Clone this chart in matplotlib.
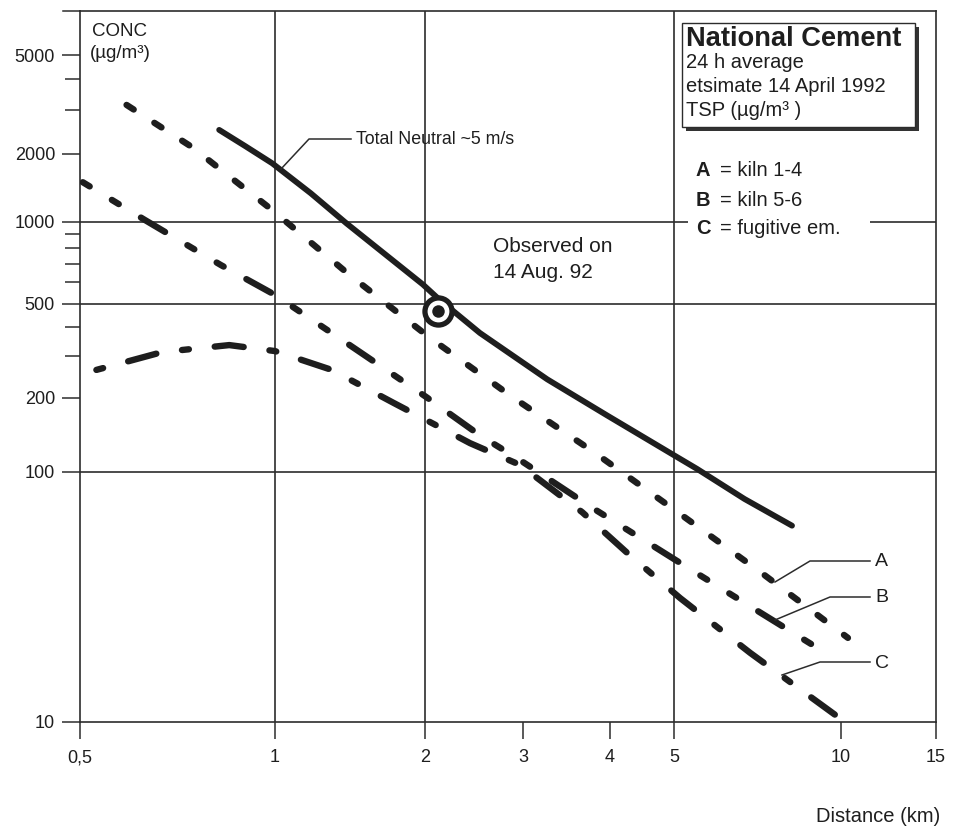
import numpy as np
import matplotlib
matplotlib.use("Agg")
import matplotlib.pyplot as plt
from matplotlib.lines import Line2D
from matplotlib.patches import Rectangle
from matplotlib.ticker import FixedLocator, FixedFormatter, NullLocator
from matplotlib import font_manager

# ---------------- data ----------------
dist_total = [0.82, 0.90, 0.99, 1.18, 1.39, 1.98, 2.12, 2.51, 3.25, 3.96, 5.0, 5.5, 6.7, 8.16]
conc_total = [2500, 2150, 1820, 1340, 990, 590, 520, 377, 240, 170, 117, 103, 78, 61]

dist_a = [0.59, 0.745, 0.99, 1.41, 2.04, 2.87, 3.80, 5.08, 7.2, 10.3]
conc_a = [3150, 2130, 1130, 640, 360, 202, 120, 69, 39.4, 21.7]

dist_b = [0.505, 0.63, 0.825, 1.0, 1.43, 2.01, 2.51, 2.96, 3.74, 5.43, 8.9]
conc_b = [1500, 1020, 695, 540, 329, 202, 141, 112, 73, 40, 20.3]

dist_c = [0.53, 0.67, 0.85, 1.0, 1.30, 1.73, 2.06, 2.41, 2.96, 3.65, 4.25, 5.13, 6.86, 9.75]
conc_c = [263, 313, 335, 316, 263, 191, 158, 131, 107, 69, 47.4, 31.3, 18.9, 10.7]

obs_dist = [2.11]
obs_conc = [467]

x_ticks = [0.5, 1, 2, 3, 4, 5, 10, 15]
x_labels = ["0,5", "1", "2", "3", "4", "5", "10", "15"]
y_ticks = [10, 100, 200, 500, 1000, 2000, 5000]
y_labels = ["10", "100", "200", "500", "1000", "2000", "5000"]
y_minor = [300, 400, 600, 700, 800, 900, 3000, 4000]
grid_x = [1, 2, 5]
grid_y = [100, 500, 1000]

# ---------------- style ----------------
plt.rcParams["font.family"] = ["Liberation Sans", "DejaVu Sans"]
plt.rcParams["lines.scale_dashes"] = False
INK = "#1e1e1e"
GRID = "#2c2c2c"

names = {f.name for f in font_manager.fontManager.ttflist}
if "Liberation Sans Narrow" in names:
    TICKFAM, TICKSIZE = ["Liberation Sans Narrow", "DejaVu Sans"], 14.5
else:
    TICKFAM, TICKSIZE = ["Liberation Sans", "DejaVu Sans"], 13

W, H = 956, 827
def fx(x):
    return x / W
def fy(y):
    return 1 - y / H

# hand-drawn log axes of the original: piecewise log scale
def make_scale(vals, pos):
    lv = np.log10(np.asarray(vals, float))
    pos = np.asarray(pos, float)
    s0 = (pos[1] - pos[0]) / (lv[1] - lv[0])
    s1 = (pos[-1] - pos[-2]) / (lv[-1] - lv[-2])

    def fwd(v):
        v = np.asarray(v, float)
        l = np.log10(np.clip(v, 1e-300, None))
        out = np.interp(l, lv, pos)
        out = np.where(l < lv[0], pos[0] + (l - lv[0]) * s0, out)
        out = np.where(l > lv[-1], pos[-1] + (l - lv[-1]) * s1, out)
        return out

    def inv(p):
        p = np.asarray(p, float)
        l = np.interp(p, pos, lv)
        l = np.where(p < pos[0], lv[0] + (p - pos[0]) / s0, l)
        l = np.where(p > pos[-1], lv[-1] + (p - pos[-1]) / s1, l)
        return 10 ** l
    return fwd, inv

xf, xi = make_scale(x_ticks, [80, 275, 425, 523, 610, 674, 841, 936])
yf, yi = make_scale(y_ticks, [-722, -472, -398, -304, -222, -154, -55])

fig = plt.figure(figsize=(W / 100, H / 100), dpi=100)
ax = fig.add_axes([fx(80), fy(722), (936 - 80) / W, (722 - 11) / H])
ax.set_xscale("function", functions=(xf, xi))
ax.set_yscale("function", functions=(yf, yi))
ax.set_xlim(0.5, 15)
ax.set_ylim(10, float(yi(-11)))

for s in ax.spines.values():
    s.set_linewidth(1.2)
    s.set_color(GRID)

ax.xaxis.set_major_locator(FixedLocator(x_ticks))
ax.xaxis.set_major_formatter(FixedFormatter(x_labels))
ax.xaxis.set_minor_locator(NullLocator())
ax.yaxis.set_major_locator(FixedLocator(y_ticks))
ax.yaxis.set_major_formatter(FixedFormatter(y_labels))
ax.yaxis.set_minor_locator(FixedLocator(y_minor))
ax.tick_params(axis="x", which="major", direction="out", length=12.5, width=1.1,
               color=GRID, pad=7, labelcolor=INK)
ax.tick_params(axis="y", which="major", direction="out", length=13, width=1.1,
               color=GRID, pad=5, labelcolor=INK)
ax.tick_params(axis="y", which="minor", direction="out", length=11, width=1.1, color=GRID)
for lab in ax.get_xticklabels() + ax.get_yticklabels():
    lab.set_family(TICKFAM)
    lab.set_fontsize(TICKSIZE)

for g in grid_x:
    ax.axvline(g, color=GRID, lw=1.2, zorder=1)
for g in grid_y:
    ax.axhline(g, color=GRID, lw=1.2, zorder=1)

# curves
ax.plot(dist_total, conc_total, color=INK, lw=4.2, solid_capstyle="round",
        solid_joinstyle="round", zorder=3)
ax.plot(dist_a, conc_a, color=INK, lw=4.6, linestyle=(0, (6.1, 17.7)),
        dash_capstyle="round", zorder=3)
ax.plot(dist_b, conc_b, color=INK, lw=4.6,
        linestyle=(38.9, (20.2, 18.7, 5.8, 18.7, 5.8, 18.7)),
        dash_capstyle="round", zorder=3)
ax.plot(dist_c, conc_c, color=INK, lw=4.6,
        linestyle=(39.7, (21, 18.7, 5, 18.7)),
        dash_capstyle="round", zorder=3)

ax.plot(obs_dist, obs_conc, "o", ms=19.5, mfc="white", mec=INK, mew=3.8, zorder=5)
ax.plot(obs_dist, obs_conc, "o", ms=9, color=INK, mew=0, zorder=6)

# ---------------- annotations ----------------
def leader(pts):
    xs = [fx(p[0]) for p in pts]
    ys = [fy(p[1]) for p in pts]
    fig.add_artist(Line2D(xs, ys, transform=fig.transFigure, color=GRID, lw=1.1, zorder=4))

leader([(63, 11), (80, 11)])
leader([(281, 169), (309, 139), (351, 139)])
fig.text(fx(356), fy(139), "Total Neutral ~5 m/s", fontsize=12.8, va="center", ha="left", color=INK)

fig.text(fx(493), fy(246), "Observed on", fontsize=15, va="center", ha="left", color=INK)
fig.text(fx(493), fy(272), "14 Aug. 92", fontsize=15, va="center", ha="left", color=INK)

leader([(775, 582), (810, 561), (870, 561)])
leader([(775, 620), (830, 597), (870, 597)])
leader([(782, 675), (820, 662), (870, 662)])
fig.text(fx(875), fy(561), "A", fontsize=14, va="center", ha="left", color=INK)
fig.text(fx(875), fy(598), "B", fontsize=14, va="center", ha="left", color=INK)
fig.text(fx(875), fy(663), "C", fontsize=14, va="center", ha="left", color=INK)

fig.text(fx(92), fy(31), "CONC", fontsize=13.5, va="center", ha="left", color=INK)
fig.text(fx(90), fy(53), "(µg/m³)", fontsize=13.5, va="center", ha="left", color=INK)

fig.text(fx(940), fy(816), "Distance (km)", fontsize=14.5, va="center", ha="right", color=INK)

# title box with shadow
fig.add_artist(Rectangle((fx(686), fy(131)), (915 - 682) / W, (127 - 23) / H,
                         transform=fig.transFigure, facecolor="#333333",
                         edgecolor="none", zorder=5))
fig.add_artist(Rectangle((fx(682), fy(127)), (915 - 682) / W, (127 - 23) / H,
                         transform=fig.transFigure, facecolor="white",
                         edgecolor=GRID, lw=1.0, zorder=6))
fig.text(fx(686), fy(39), "National Cement", fontsize=19.6, fontweight="bold",
         va="center", ha="left", color=INK, zorder=7)
fig.text(fx(686), fy(63), "24 h average", fontsize=14.5, va="center", ha="left", color=INK, zorder=7)
fig.text(fx(686), fy(87), "etsimate 14 April 1992", fontsize=14.5, va="center", ha="left",
         color=INK, zorder=7)
fig.text(fx(686), fy(110), "TSP (µg/m³ )", fontsize=14.5, va="center", ha="left", color=INK, zorder=7)

# legend lines (white background breaks the 1000 grid line)
fig.add_artist(Rectangle((fx(688), fy(240)), (870 - 688) / W, (240 - 216) / H,
                         transform=fig.transFigure, facecolor="white",
                         edgecolor="none", zorder=5))
for yy, key, desc in [(171, "A", "= kiln 1-4"), (200, "B", "= kiln 5-6"),
                      (229, "C", "= fugitive em.")]:
    fig.text(fx(696), fy(yy), key, fontsize=14.5, fontweight="bold", va="center",
             ha="left", color=INK, zorder=7)
    fig.text(fx(720), fy(yy), desc, fontsize=14.5, va="center", ha="left", color=INK, zorder=7)

fig.savefig("out.png", dpi=100, facecolor="white")
